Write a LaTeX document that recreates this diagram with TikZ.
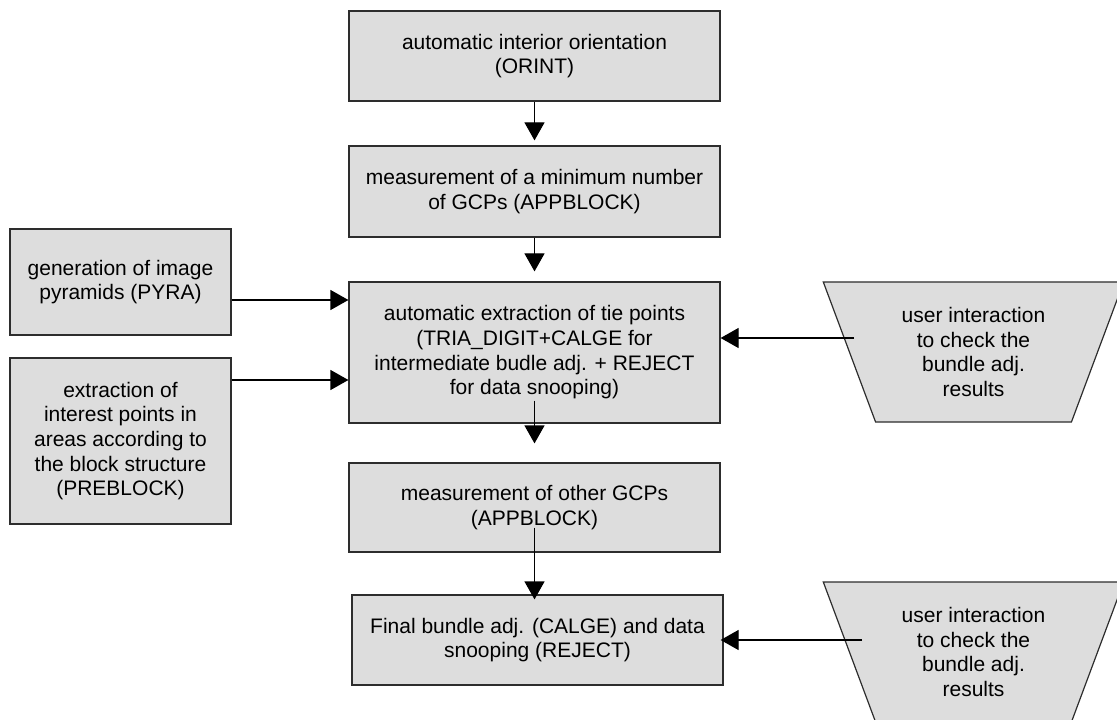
\documentclass[tikz,border=0pt]{standalone}
\usepackage{fontspec}
\setmainfont{Liberation Sans}
\usetikzlibrary{arrows.meta,shapes.geometric,calc}
\definecolor{boxGray}{RGB}{221,221,221}
\definecolor{edgeGray}{RGB}{45,45,45}

\begin{document}
\begin{tikzpicture}[x=0.75pt,y=-0.75pt,
		font=\fontsize{15.75}{18.5}\selectfont,
		stage/.style={draw=edgeGray, fill=boxGray, line width=0.9pt, align=center, inner sep=0pt, minimum width=278.25pt},
		side/.style={stage, minimum width=165.75pt},
		user/.style={trapezium, trapezium angle=66.8, shape border rotate=180, trapezium stretches=true, draw=edgeGray, fill=boxGray, line width=0.9pt, align=center, inner sep=0pt, minimum width=225.75pt, minimum height=105pt},
		flow/.style={-{Triangle[width=15pt,length=13.5pt]}, line width=0.9pt}]
	\useasboundingbox (0,0) rectangle (1117,720);

	% main column
	\node[stage, minimum height=67.5pt] (orint) at (534.5,56) {automatic interior orientation\\(ORINT)};
	\node[stage, minimum height=68.25pt] (gcps) at (534.5,191.5) {measurement of a minimum number\\of GCPs (APPBLOCK)};
	\node[stage, minimum height=105.75pt] (tie) at (534.5,352.5) {automatic extraction of tie points\\(TRIA\_DIGIT+CALGE for\\intermediate budle adj. + REJECT\\for data snooping)};
	\node[stage, minimum height=66.75pt] (other) at (534.5,507.5) {measurement of other GCPs\\(APPBLOCK)};
	\node[stage, minimum height=67.5pt] (final) at (537.5,640) {Final bundle adj. (CALGE) and data\\snooping (REJECT)};

	% left inputs
	\node[side, minimum height=79.5pt] (pyra) at (120.5,282) {generation of image\\pyramids (PYRA)};
	\node[side, minimum height=124.5pt] (preblock) at (120.5,441) {extraction of\\interest points in\\areas according to\\the block structure\\(PREBLOCK)};

	% user checks
	\node[user] (checkA) at (973.5,352) {user interaction\\to check the\\bundle adj.\\results};
	\node[user] (checkB) at (973.5,652) {user interaction\\to check the\\bundle adj.\\results};

	\coordinate (pIn) at ([yshift=-13.5pt]pyra.east);
	\coordinate (qIn) at ([yshift=45.75pt]preblock.east);
	\coordinate (uA) at ($(checkA.center)+(-119.5,-14)$);
	\coordinate (uB) at ($(checkB.center)+(-111.5,-12)$);

	\draw[flow, shorten >=3.75pt] (orint.south) -- (gcps.north);
	\draw[flow, shorten >=7.5pt] (gcps.south) -- (tie.north);
	\draw[flow, shorten >=14.25pt] ([yshift=17.25pt]tie.south) -- (other.north);
	\draw[flow, shorten >=-3.75pt] ([yshift=18.75pt]other.south) -- (other.south |- final.north);
	\draw[flow] (pIn) -- (pIn -| tie.west);
	\draw[flow] (qIn) -- (qIn -| tie.west);
	\draw[flow] (uA) -- (uA -| tie.east);
	\draw[flow, shorten >=-2.25pt] (uB) -- (uB -| final.east);
\end{tikzpicture}
\end{document}
